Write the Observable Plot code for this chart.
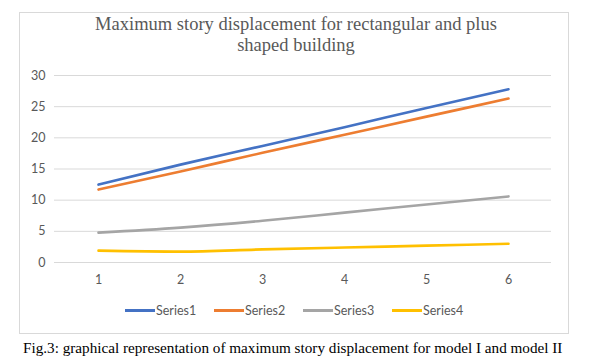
<!DOCTYPE html>
<html>
<head>
<meta charset="utf-8">
<script src="https://cdn.jsdelivr.net/npm/d3@7"></script>
<script src="https://cdn.jsdelivr.net/npm/@observablehq/plot@0.6"></script>
<style>
  html, body { margin: 0; padding: 0; background: #fff; }
  #wrap { position: relative; width: 592px; height: 364px; overflow: hidden; background: #fff; }
  #frame { position: absolute; left: 19px; top: 12px; width: 550px; height: 322px; border: 1px solid #d9d9d9; box-sizing: border-box; }
  #title { position: absolute; left: 0; top: 14px; width: 592px; text-align: center; font-family: "Liberation Serif", "DejaVu Serif", serif; font-size: 18.5px; line-height: 21px; color: #595959; }
  #legend { position: absolute; left: 0; top: 302px; width: 592px; height: 16px; font-family: Lato, "Open Sans", sans-serif; font-size: 12.5px; color: #595959; }
  .item { position: absolute; top: 0; height: 16px; display: flex; align-items: center; white-space: nowrap; }
  .sw { width: 30px; height: 3px; margin-right: 1px; }
  #caption { position: absolute; left: 23px; top: 339px; white-space: nowrap; font-family: "Liberation Serif", serif; font-size: 15.2px; line-height: 17px; color: #000; }
  #chart { position: absolute; left: 0; top: 0; }
</style>
</head>
<body>
<div id="wrap">
  <div id="frame"></div>
  <div id="chart"></div>
  <div id="title">Maximum story displacement for rectangular and plus<br>shaped building</div>
  <div id="legend"></div>
  <div id="caption">Fig.3: graphical representation of maximum story displacement for model I and model II</div>
</div>
<script>
const stories = [1, 2, 3, 4, 5, 6];
const series1 = [12.5, 15.7, 18.7, 21.7, 24.8, 27.8];
const series2 = [11.7, 14.6, 17.6, 20.5, 23.4, 26.3];
const series3 = [4.8, 5.6, 6.7, 8.0, 9.3, 10.6];
const series4 = [1.9, 1.75, 2.1, 2.4, 2.7, 3.0];
const seriesNames = ["Series1", "Series2", "Series3", "Series4"];
const seriesColors = ["#4472C4", "#ED7D31", "#A5A5A5", "#FFC000"];
const yTicks = [0, 5, 10, 15, 20, 25, 30];

const allSeries = [series1, series2, series3, series4];
const data = [];
allSeries.forEach((s, i) => s.forEach((v, j) => data.push({x: stories[j], y: v, s: seriesNames[i]})));

const chart = Plot.plot({
  width: 592,
  height: 364,
  marginLeft: 54,
  marginRight: 41,
  marginTop: 75,
  marginBottom: 102,
  style: {background: "transparent", fontFamily: "Lato, 'Open Sans', sans-serif", fontSize: "12.5px", color: "#595959"},
  x: {type: "point", domain: stories, padding: 0.5, label: null},
  y: {domain: [0, 30], label: null},
  color: {domain: seriesNames, range: seriesColors},
  marks: [
    Plot.gridY(yTicks, {stroke: "#d9d9d9", strokeOpacity: 1, strokeWidth: 1}),
    Plot.axisY(yTicks, {tickSize: 0, tickPadding: 9, fill: "#595959", label: null}),
    Plot.axisX(stories, {tickSize: 0, tickPadding: 13, fill: "#595959", label: null}),
    Plot.line(data, {x: "x", y: "y", z: "s", stroke: "s", strokeWidth: 2.6, curve: "monotone-x", strokeLinecap: "round"})
  ]
});
document.getElementById("chart").appendChild(chart);

const legend = document.getElementById("legend");
seriesNames.forEach((n, i) => {
  const it = document.createElement("div");
  it.className = "item";
  it.style.left = (125 + i * 89) + "px";
  const sw = document.createElement("div");
  sw.className = "sw";
  sw.style.background = seriesColors[i];
  const t = document.createElement("span");
  t.textContent = n;
  it.appendChild(sw); it.appendChild(t);
  legend.appendChild(it);
});
</script>
</body>
</html>
